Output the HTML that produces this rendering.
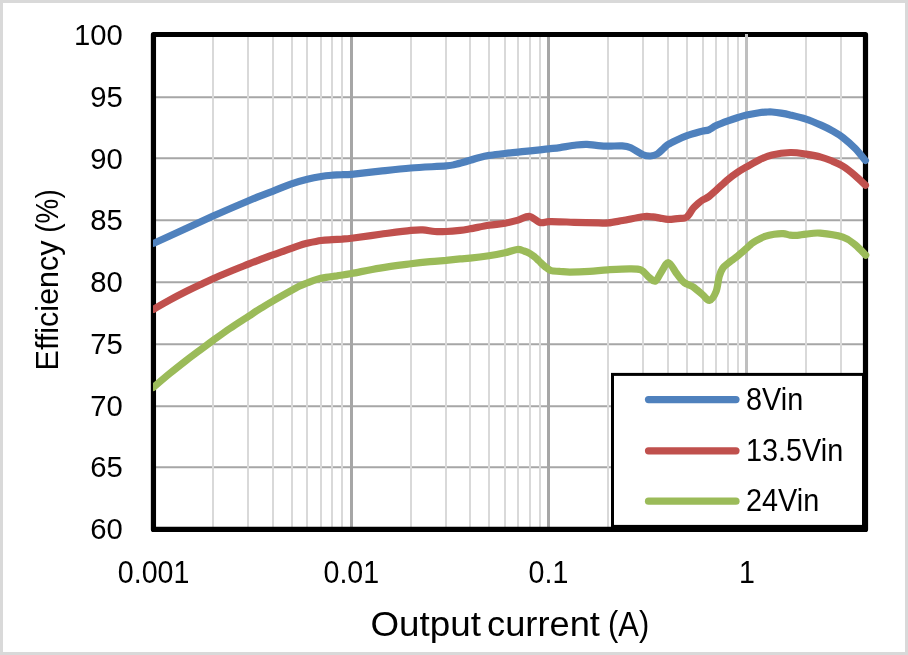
<!DOCTYPE html>
<html><head><meta charset="utf-8"><style>
html,body{margin:0;padding:0;background:#fff;}
body{width:908px;height:655px;overflow:hidden;}
svg{display:block;will-change:transform;}
text{font-family:"Liberation Sans",sans-serif;fill:#000;}
.tk{font-size:30.6px;}
</style></head><body>
<svg width="908" height="655" viewBox="0 0 908 655">
<rect x="1.5" y="1.5" width="905" height="652" fill="#fff" stroke="#d9d9d9" stroke-width="3"/>
<line x1="156" y1="97.30" x2="863" y2="97.30" stroke="#a6a6a6" stroke-width="2"/>
<line x1="156" y1="158.30" x2="863" y2="158.30" stroke="#a6a6a6" stroke-width="2"/>
<line x1="156" y1="220.30" x2="863" y2="220.30" stroke="#a6a6a6" stroke-width="2"/>
<line x1="156" y1="282.30" x2="863" y2="282.30" stroke="#a6a6a6" stroke-width="2"/>
<line x1="156" y1="344.30" x2="863" y2="344.30" stroke="#a6a6a6" stroke-width="2"/>
<line x1="156" y1="406.30" x2="863" y2="406.30" stroke="#a6a6a6" stroke-width="2"/>
<line x1="156" y1="467.30" x2="863" y2="467.30" stroke="#a6a6a6" stroke-width="2"/>
<line x1="213" y1="34.5" x2="213" y2="528.5" stroke="#d9d9d9" stroke-width="2"/>
<line x1="248" y1="34.5" x2="248" y2="528.5" stroke="#d9d9d9" stroke-width="2"/>
<line x1="273" y1="34.5" x2="273" y2="528.5" stroke="#d9d9d9" stroke-width="2"/>
<line x1="292" y1="34.5" x2="292" y2="528.5" stroke="#d9d9d9" stroke-width="2"/>
<line x1="307" y1="34.5" x2="307" y2="528.5" stroke="#d9d9d9" stroke-width="2"/>
<line x1="321" y1="34.5" x2="321" y2="528.5" stroke="#d9d9d9" stroke-width="2"/>
<line x1="332" y1="34.5" x2="332" y2="528.5" stroke="#d9d9d9" stroke-width="2"/>
<line x1="342" y1="34.5" x2="342" y2="528.5" stroke="#d9d9d9" stroke-width="2"/>
<line x1="411" y1="34.5" x2="411" y2="528.5" stroke="#d9d9d9" stroke-width="2"/>
<line x1="446" y1="34.5" x2="446" y2="528.5" stroke="#d9d9d9" stroke-width="2"/>
<line x1="470" y1="34.5" x2="470" y2="528.5" stroke="#d9d9d9" stroke-width="2"/>
<line x1="489" y1="34.5" x2="489" y2="528.5" stroke="#d9d9d9" stroke-width="2"/>
<line x1="505" y1="34.5" x2="505" y2="528.5" stroke="#d9d9d9" stroke-width="2"/>
<line x1="518" y1="34.5" x2="518" y2="528.5" stroke="#d9d9d9" stroke-width="2"/>
<line x1="530" y1="34.5" x2="530" y2="528.5" stroke="#d9d9d9" stroke-width="2"/>
<line x1="540" y1="34.5" x2="540" y2="528.5" stroke="#d9d9d9" stroke-width="2"/>
<line x1="608" y1="34.5" x2="608" y2="528.5" stroke="#d9d9d9" stroke-width="2"/>
<line x1="643" y1="34.5" x2="643" y2="528.5" stroke="#d9d9d9" stroke-width="2"/>
<line x1="668" y1="34.5" x2="668" y2="528.5" stroke="#d9d9d9" stroke-width="2"/>
<line x1="687" y1="34.5" x2="687" y2="528.5" stroke="#d9d9d9" stroke-width="2"/>
<line x1="703" y1="34.5" x2="703" y2="528.5" stroke="#d9d9d9" stroke-width="2"/>
<line x1="716" y1="34.5" x2="716" y2="528.5" stroke="#d9d9d9" stroke-width="2"/>
<line x1="728" y1="34.5" x2="728" y2="528.5" stroke="#d9d9d9" stroke-width="2"/>
<line x1="738" y1="34.5" x2="738" y2="528.5" stroke="#d9d9d9" stroke-width="2"/>
<line x1="806" y1="34.5" x2="806" y2="528.5" stroke="#d9d9d9" stroke-width="2"/>
<line x1="841" y1="34.5" x2="841" y2="528.5" stroke="#d9d9d9" stroke-width="2"/>
<line x1="351.5" y1="34.5" x2="351.5" y2="528.5" stroke="#a6a6a6" stroke-width="3"/>
<line x1="548.5" y1="34.5" x2="548.5" y2="528.5" stroke="#a6a6a6" stroke-width="3"/>
<line x1="746.5" y1="34.5" x2="746.5" y2="528.5" stroke="#bfbfbf" stroke-width="3"/>
<rect x="153.45" y="34.5" width="712.05" height="494.95" fill="none" stroke="#000" stroke-width="5.2" stroke-linejoin="round"/>
<defs><clipPath id="cp"><rect x="153" y="0" width="760" height="655"/></clipPath></defs>
<g fill="none" stroke-width="7.2" stroke-linecap="round" stroke-linejoin="round" clip-path="url(#cp)">
<path d="M153.7,243.3 C163.6,238.8 197.4,223.2 213.1,216.1 C228.8,209.0 240.2,204.3 248.0,201.0 C255.8,197.7 255.8,197.7 259.9,196.1 C264.0,194.5 267.3,193.3 272.6,191.3 C277.9,189.3 285.7,185.9 291.5,183.9 C297.3,181.9 302.4,180.5 307.3,179.3 C312.2,178.1 316.9,177.2 321.1,176.5 C325.3,175.8 329.2,175.5 332.7,175.2 C336.2,174.9 338.9,174.8 342.0,174.7 C345.1,174.5 345.2,174.9 351.5,174.3 C357.8,173.7 370.1,172.2 380.0,171.2 C389.9,170.1 399.9,168.9 410.9,168.0 C421.9,167.1 438.5,166.5 446.0,165.9 C453.5,165.3 451.9,165.2 455.9,164.3 C459.9,163.4 466.2,161.5 470.1,160.3 C474.1,159.2 476.4,158.2 479.6,157.4 C482.8,156.6 485.0,156.1 489.2,155.4 C493.4,154.8 500.2,154.1 505.0,153.5 C509.8,152.9 513.8,152.5 518.0,152.1 C522.2,151.7 526.6,151.2 530.3,150.8 C534.0,150.4 537.0,150.1 540.0,149.8 C543.0,149.5 545.3,149.3 548.6,148.9 C551.9,148.5 555.4,148.2 560.0,147.6 C564.6,146.9 571.9,145.5 576.4,145.0 C580.9,144.5 583.7,144.3 587.0,144.4 C590.3,144.5 592.8,145.1 596.3,145.4 C599.8,145.7 603.6,146.1 607.9,146.2 C612.2,146.3 618.2,145.6 622.0,145.9 C625.8,146.2 627.3,146.3 630.8,147.8 C634.3,149.3 639.7,153.3 643.0,154.7 C646.3,156.1 648.1,156.1 650.5,156.0 C652.9,155.9 655.1,155.3 657.3,154.0 C659.5,152.7 661.8,150.0 663.6,148.4 C665.4,146.8 666.0,145.8 668.0,144.5 C670.0,143.2 672.7,141.9 675.9,140.4 C679.1,138.9 683.7,136.9 687.0,135.7 C690.3,134.5 693.0,133.8 695.7,133.0 C698.4,132.2 700.8,131.5 703.0,131.0 C705.2,130.5 706.7,130.7 708.9,129.8 C711.1,128.9 713.0,127.1 716.2,125.6 C719.4,124.1 724.4,122.2 728.0,120.9 C731.6,119.6 734.9,118.5 738.0,117.5 C741.1,116.5 743.1,115.8 746.6,115.0 C750.1,114.2 755.9,113.2 759.1,112.7 C762.3,112.2 763.8,112.2 766.0,112.1 C768.2,112.0 769.6,111.8 772.1,112.0 C774.6,112.2 778.0,112.6 781.0,113.1 C784.0,113.6 785.8,113.9 790.0,114.9 C794.2,115.9 800.8,117.4 806.0,119.1 C811.2,120.8 816.7,123.2 821.0,125.1 C825.3,127.0 828.3,128.5 832.0,130.6 C835.7,132.7 839.2,134.6 843.0,137.6 C846.8,140.6 851.3,144.5 855.0,148.3 C858.7,152.1 863.7,158.5 865.4,160.5" stroke="#4f81bd"/>
<path d="M153.5,309.3 C156.2,307.7 164.6,302.9 170.0,299.9 C175.4,296.9 181.0,294.0 186.0,291.5 C191.0,289.0 195.5,286.8 200.0,284.7 C204.5,282.6 208.0,280.9 213.0,278.7 C218.0,276.5 224.0,274.0 230.0,271.5 C236.0,269.0 244.0,265.9 249.0,263.9 C254.0,261.9 256.0,261.2 260.0,259.7 C264.0,258.2 268.8,256.4 273.0,254.9 C277.2,253.4 280.7,252.2 285.0,250.6 C289.3,249.0 295.4,246.8 299.0,245.6 C302.6,244.4 303.2,244.2 306.9,243.3 C310.6,242.5 316.9,241.1 321.1,240.5 C325.3,239.9 328.6,239.9 332.1,239.7 C335.6,239.5 338.9,239.3 342.1,239.1 C345.3,238.8 345.1,239.0 351.5,238.2 C357.9,237.4 370.4,235.6 380.3,234.3 C390.2,233.0 403.8,231.1 410.9,230.4 C418.0,229.7 418.7,229.7 422.7,229.9 C426.7,230.1 430.9,231.2 434.8,231.5 C438.7,231.8 441.9,231.7 446.1,231.5 C450.3,231.3 456.0,230.8 460.0,230.4 C464.0,230.0 465.2,229.7 470.0,228.8 C474.8,228.0 483.1,226.2 489.0,225.3 C494.9,224.4 500.2,224.1 505.1,223.2 C510.0,222.3 514.1,221.2 518.1,220.1 C522.1,219.0 525.7,216.0 529.3,216.4 C532.9,216.8 536.7,221.6 539.9,222.5 C543.1,223.4 545.4,221.8 548.7,221.7 C552.1,221.6 555.8,221.7 560.0,221.8 C564.2,221.9 567.8,222.1 574.2,222.3 C580.6,222.5 592.9,222.8 598.5,222.9 C604.1,223.0 604.1,223.3 608.1,222.9 C612.1,222.5 616.9,221.5 622.7,220.5 C628.5,219.5 638.0,217.3 643.0,216.7 C648.0,216.1 650.2,216.7 653.0,216.9 C655.8,217.1 657.5,217.7 660.0,218.1 C662.5,218.5 665.1,219.3 668.0,219.4 C670.9,219.5 674.5,218.9 677.4,218.6 C680.3,218.3 683.4,218.4 685.2,217.8 C687.1,217.2 687.2,216.7 688.5,215.2 C689.8,213.7 691.2,210.6 692.9,208.6 C694.5,206.6 696.7,204.8 698.4,203.3 C700.1,201.8 701.2,200.9 703.0,199.8 C704.8,198.7 706.8,198.1 709.0,196.5 C711.2,194.9 712.8,193.2 716.0,190.3 C719.2,187.5 724.3,182.5 728.0,179.4 C731.7,176.3 734.9,174.1 738.0,172.0 C741.1,169.9 742.9,169.0 746.6,166.9 C750.3,164.8 755.8,161.5 760.0,159.5 C764.2,157.5 767.0,156.2 772.0,155.0 C777.0,153.8 784.6,152.7 790.3,152.5 C796.0,152.3 800.9,153.3 806.0,154.1 C811.1,154.9 816.7,155.9 821.0,157.1 C825.3,158.2 828.3,159.5 832.0,161.0 C835.7,162.5 839.2,163.9 843.0,166.3 C846.8,168.7 851.3,172.3 855.0,175.5 C858.7,178.7 863.7,183.6 865.4,185.2" stroke="#c0504d"/>
<path d="M153.2,387.5 C156.0,385.1 164.5,377.8 170.0,373.3 C175.5,368.8 181.0,364.5 186.0,360.6 C191.0,356.7 195.5,353.5 200.0,350.1 C204.5,346.8 208.0,344.1 213.0,340.5 C218.0,336.9 224.0,332.5 230.0,328.4 C236.0,324.3 244.0,319.3 249.0,316.0 C254.0,312.7 256.0,311.3 260.0,308.8 C264.0,306.3 267.7,304.1 273.0,301.0 C278.3,297.9 287.7,292.6 292.0,290.2 C296.3,287.8 296.5,287.5 299.0,286.3 C301.5,285.1 304.2,284.1 307.0,283.0 C309.8,281.9 312.8,280.5 316.0,279.6 C319.2,278.7 322.5,278.0 326.0,277.4 C329.5,276.8 332.8,276.5 337.0,275.9 C341.2,275.2 344.3,274.8 351.5,273.5 C358.7,272.2 370.1,269.7 380.0,268.1 C389.9,266.5 402.6,264.9 410.9,263.8 C419.2,262.7 424.1,262.2 430.0,261.6 C435.9,261.0 441.1,260.8 446.1,260.4 C451.1,259.9 456.0,259.3 460.0,258.9 C464.0,258.5 465.2,258.6 470.0,258.1 C474.8,257.6 483.1,256.6 489.0,255.7 C494.9,254.8 500.4,253.7 505.1,252.7 C509.8,251.7 514.1,249.8 517.2,249.5 C520.4,249.2 521.9,250.3 524.0,251.0 C526.1,251.7 528.2,252.6 530.0,253.6 C531.8,254.6 533.5,256.0 535.0,257.2 C536.5,258.4 537.3,259.4 539.0,261.0 C540.7,262.6 543.0,265.0 545.0,266.6 C547.0,268.2 548.5,269.8 551.0,270.6 C553.5,271.4 556.9,271.1 560.0,271.4 C563.1,271.6 564.9,272.1 569.8,272.1 C574.7,272.1 583.3,271.8 589.6,271.4 C595.9,271.0 601.2,270.2 607.8,269.8 C614.4,269.4 623.7,268.8 629.3,268.8 C634.9,268.8 637.9,268.6 641.2,270.0 C644.5,271.4 646.7,275.6 649.1,277.4 C651.5,279.2 653.4,282.1 655.5,281.0 C657.6,279.9 659.8,273.9 662.0,270.8 C664.2,267.8 666.1,262.3 668.5,262.7 C670.9,263.1 674.0,270.2 676.4,273.3 C678.8,276.4 681.2,279.7 683.0,281.5 C684.8,283.3 685.2,283.2 687.0,284.1 C688.8,285.1 691.0,285.4 693.6,287.2 C696.2,289.0 700.2,292.8 702.9,295.0 C705.5,297.2 707.3,301.0 709.5,300.4 C711.7,299.8 714.5,295.5 716.1,291.5 C717.7,287.5 718.1,280.3 719.2,276.4 C720.3,272.5 721.3,270.3 722.8,268.1 C724.3,265.9 726.4,264.7 728.1,263.3 C729.8,261.9 731.2,260.9 732.9,259.6 C734.5,258.3 735.7,257.6 738.0,255.7 C740.3,253.8 744.3,250.3 746.5,248.4 C748.7,246.5 749.7,245.3 751.2,244.0 C752.8,242.7 753.5,242.1 755.8,240.8 C758.1,239.5 761.9,237.5 765.0,236.4 C768.1,235.3 771.2,234.7 774.2,234.2 C777.2,233.7 780.7,233.4 783.3,233.6 C785.9,233.8 787.7,234.8 790.0,235.1 C792.3,235.4 794.6,235.6 797.3,235.4 C800.0,235.2 802.3,234.5 806.1,234.1 C809.9,233.7 814.1,232.6 820.2,233.1 C826.4,233.6 837.2,235.3 843.0,237.2 C848.8,239.1 851.2,241.6 855.0,244.6 C858.8,247.6 863.9,253.3 865.7,255.1" stroke="#9bbb59"/>
</g>
<rect x="745" y="34" width="3" height="3" fill="#bfbfbf"/>
<rect x="612.5" y="374.4" width="251" height="152" fill="#fff" stroke="#000" stroke-width="3"/>
<g stroke-width="7.2" stroke-linecap="round">
<line x1="648.5" y1="399.6" x2="736" y2="399.6" stroke="#4f81bd"/>
<line x1="648.5" y1="450.8" x2="736" y2="450.8" stroke="#c0504d"/>
<line x1="648.5" y1="501.2" x2="736" y2="501.2" stroke="#9bbb59"/>
</g>
<g font-size="31" transform="translate(746,0)">
<text x="0" y="410" transform="scale(0.93,1)">8Vin</text>
<text x="0" y="461" transform="scale(0.93,1)">13.5Vin</text>
<text x="0" y="511.5" transform="scale(0.93,1)">24Vin</text>
</g>
<text transform="translate(122.8,45.20) scale(0.975,1)" text-anchor="end" class="tk" style="font-size:30px">100</text><text transform="translate(122.8,106.95) scale(0.975,1)" text-anchor="end" class="tk" style="font-size:30px">95</text><text transform="translate(122.8,168.70) scale(0.975,1)" text-anchor="end" class="tk" style="font-size:30px">90</text><text transform="translate(122.8,230.45) scale(0.975,1)" text-anchor="end" class="tk" style="font-size:30px">85</text><text transform="translate(122.8,292.20) scale(0.975,1)" text-anchor="end" class="tk" style="font-size:30px">80</text><text transform="translate(122.8,353.95) scale(0.975,1)" text-anchor="end" class="tk" style="font-size:30px">75</text><text transform="translate(122.8,415.70) scale(0.975,1)" text-anchor="end" class="tk" style="font-size:30px">70</text><text transform="translate(122.8,477.45) scale(0.975,1)" text-anchor="end" class="tk" style="font-size:30px">65</text><text transform="translate(122.8,539.20) scale(0.975,1)" text-anchor="end" class="tk" style="font-size:30px">60</text>
<text transform="translate(153.6,582.7) scale(0.935,1)" text-anchor="middle" class="tk">0.001</text><text transform="translate(351.3,582.7) scale(0.935,1)" text-anchor="middle" class="tk">0.01</text><text transform="translate(548.5,582.7) scale(0.935,1)" text-anchor="middle" class="tk">0.1</text><text transform="translate(747,582.7) scale(0.935,1)" text-anchor="middle" class="tk">1</text>
<g font-size="35.3">
<text transform="translate(370.5,636) scale(1.043,1)">Output</text>
<text transform="translate(487,636) scale(1.028,1)">current</text>
<text transform="translate(608.1,636) scale(0.874,1)">(A)</text>
</g>
<g font-size="31">
<text transform="translate(57.6,370.4) rotate(-90) scale(0.984,1)">Efficiency</text>
<text transform="translate(57.6,232.7) rotate(-90) scale(0.9,1)">(%)</text>
</g>
</svg>
</body></html>
